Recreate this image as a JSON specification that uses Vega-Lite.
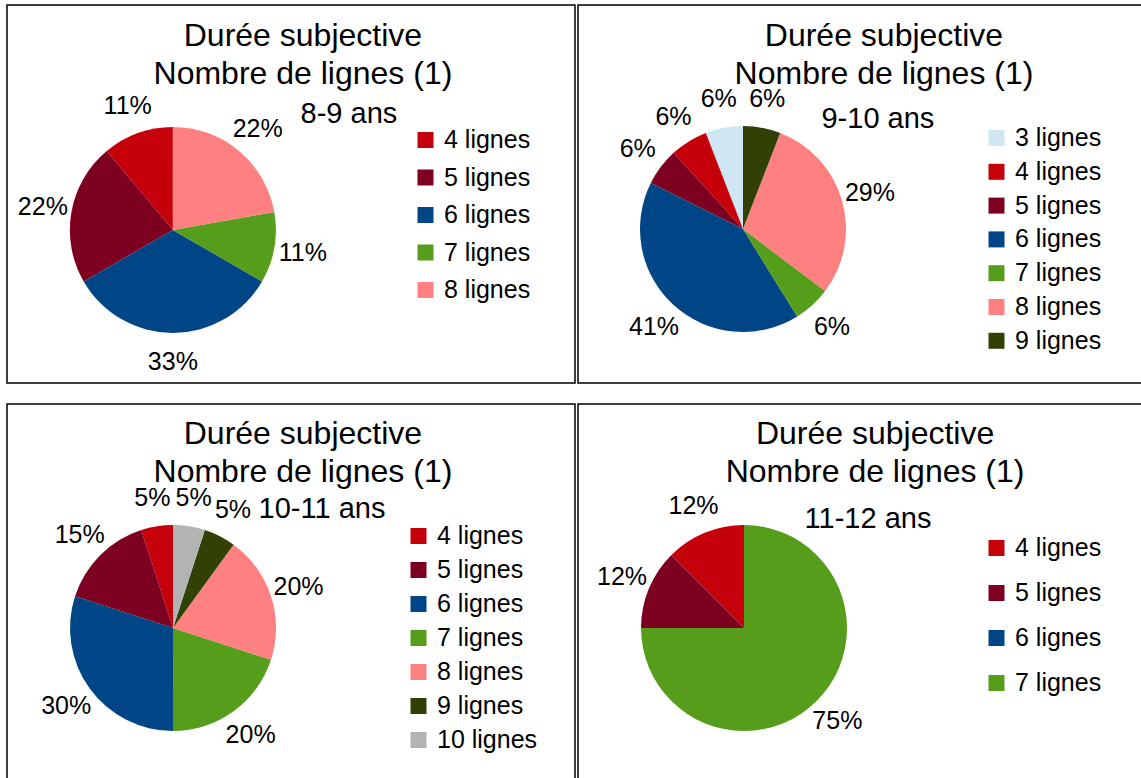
{
  "$schema": "https://vega.github.io/schema/vega-lite/v6.json",
  "padding": {"left": 6, "top": 4, "right": 0, "bottom": 0},
  "background": "white",
  "config": {
    "view": {"stroke": "black", "strokeWidth": 1.5},
    "font": "Liberation Sans",
    "text": {"font": "Liberation Sans", "color": "black"},
    "legend": {"symbolType": "square", "symbolSize": 256, "labelFontSize": 25, "labelFont": "Liberation Sans", "labelColor": "black", "labelOffset": 6, "symbolStrokeWidth": 0, "padding": 0, "labelLimit": 0, "symbolOpacity": 1}
  },
  "datasets": {
    "p89": [
      {"categorie": "4 lignes", "nb": 4, "part": 11.11, "etiquette": "11%"},
      {"categorie": "5 lignes", "nb": 5, "part": 22.22, "etiquette": "22%"},
      {"categorie": "6 lignes", "nb": 6, "part": 33.33, "etiquette": "33%"},
      {"categorie": "7 lignes", "nb": 7, "part": 11.11, "etiquette": "11%"},
      {"categorie": "8 lignes", "nb": 8, "part": 22.22, "etiquette": "22%"}
    ],
    "p910": [
      {"categorie": "3 lignes", "nb": 3, "part": 5.88, "etiquette": "6%"},
      {"categorie": "4 lignes", "nb": 4, "part": 5.88, "etiquette": "6%"},
      {"categorie": "5 lignes", "nb": 5, "part": 5.88, "etiquette": "6%"},
      {"categorie": "6 lignes", "nb": 6, "part": 41.18, "etiquette": "41%"},
      {"categorie": "7 lignes", "nb": 7, "part": 5.88, "etiquette": "6%"},
      {"categorie": "8 lignes", "nb": 8, "part": 29.41, "etiquette": "29%"},
      {"categorie": "9 lignes", "nb": 9, "part": 5.88, "etiquette": "6%"}
    ],
    "p1011": [
      {"categorie": "4 lignes", "nb": 4, "part": 5, "etiquette": "5%"},
      {"categorie": "5 lignes", "nb": 5, "part": 15, "etiquette": "15%"},
      {"categorie": "6 lignes", "nb": 6, "part": 30, "etiquette": "30%"},
      {"categorie": "7 lignes", "nb": 7, "part": 20, "etiquette": "20%"},
      {"categorie": "8 lignes", "nb": 8, "part": 20, "etiquette": "20%"},
      {"categorie": "9 lignes", "nb": 9, "part": 5, "etiquette": "5%"},
      {"categorie": "10 lignes", "nb": 10, "part": 5, "etiquette": "5%"}
    ],
    "p1112": [
      {"categorie": "4 lignes", "nb": 4, "part": 12.5, "etiquette": "12%"},
      {"categorie": "5 lignes", "nb": 5, "part": 12.5, "etiquette": "12%"},
      {"categorie": "6 lignes", "nb": 6, "part": 0, "etiquette": ""},
      {"categorie": "7 lignes", "nb": 7, "part": 75, "etiquette": "75%"}
    ]
  },
  "columns": 2,
  "spacing": {"row": 21, "column": 3},
  "bounds": "flush",
  "resolve": {
    "scale": {"color": "independent", "theta": "independent", "x": "independent", "y": "independent"},
    "legend": {"color": "independent"}
  },
  "concat": [
    {
      "width": 568, "height": 378,
      "layer": [
        {
          "data": {"name": "p89"},
          "mark": {"type": "arc", "outerRadius": 103},
          "encoding": {
            "theta": {"field": "part", "type": "quantitative", "stack": true},
            "order": {"field": "nb", "sort": "descending"},
            "color": {"field": "categorie", "type": "nominal",
              "scale": {"domain": ["4 lignes", "5 lignes", "6 lignes", "7 lignes", "8 lignes"], "range": ["#c5000b", "#7e0021", "#004586", "#579d1c", "#ff8080"]},
              "legend": {"title": null, "orient": "none", "legendX": 406, "legendY": 122.5, "rowPadding": 11.5}},
            "x": {"datum": 0.292, "type": "quantitative", "scale": {"domain": [0, 1], "nice": false, "zero": false}, "axis": null},
            "y": {"datum": 0.405, "type": "quantitative", "scale": {"domain": [0, 1], "nice": false, "zero": false}, "axis": null}
          }
        },
        {
          "data": {"name": "p89"},
          "transform": [{"filter": "datum.part > 0"}],
          "mark": {"type": "text", "radius": 132, "fontSize": 25, "align": "center", "baseline": "middle"},
          "encoding": {
            "theta": {"field": "part", "type": "quantitative", "stack": true},
            "order": {"field": "nb", "sort": "descending"},
            "text": {"field": "etiquette"},
            "x": {"datum": 0.292, "type": "quantitative"},
            "y": {"datum": 0.405, "type": "quantitative"}
          }
        },
        {
          "data": {"values": [{}]},
          "mark": {"type": "text", "fontSize": 32, "lineHeight": 38, "align": "center", "baseline": "alphabetic"},
          "encoding": {
            "text": {"value": ["Durée subjective", "Nombre de lignes (1)"]},
            "x": {"datum": 0.521, "type": "quantitative"},
            "y": {"datum": 0.8915, "type": "quantitative"}
          }
        },
        {
          "data": {"values": [{}]},
          "mark": {"type": "text", "fontSize": 29, "align": "center", "baseline": "alphabetic"},
          "encoding": {
            "text": {"value": "8-9 ans"},
            "x": {"datum": 0.602, "type": "quantitative"},
            "y": {"datum": 0.6886, "type": "quantitative"}
          }
        }
      ]
    },
    {
      "width": 568, "height": 378,
      "layer": [
        {
          "data": {"name": "p910"},
          "mark": {"type": "arc", "outerRadius": 103},
          "encoding": {
            "theta": {"field": "part", "type": "quantitative", "stack": true},
            "order": {"field": "nb", "sort": "descending"},
            "color": {"field": "categorie", "type": "nominal",
              "scale": {"domain": ["3 lignes", "4 lignes", "5 lignes", "6 lignes", "7 lignes", "8 lignes", "9 lignes"], "range": ["#cfe7f5", "#c5000b", "#7e0021", "#004586", "#579d1c", "#ff8080", "#314004"]},
              "legend": {"title": null, "orient": "none", "legendX": 406, "legendY": 120.5, "rowPadding": 7.8}},
            "x": {"datum": 0.2905, "type": "quantitative", "scale": {"domain": [0, 1], "nice": false, "zero": false}, "axis": null},
            "y": {"datum": 0.4074, "type": "quantitative", "scale": {"domain": [0, 1], "nice": false, "zero": false}, "axis": null}
          }
        },
        {
          "data": {"name": "p910"},
          "transform": [{"filter": "datum.part > 0"}],
          "mark": {"type": "text", "radius": 132, "fontSize": 25, "align": "center", "baseline": "middle"},
          "encoding": {
            "theta": {"field": "part", "type": "quantitative", "stack": true},
            "order": {"field": "nb", "sort": "descending"},
            "text": {"field": "etiquette"},
            "x": {"datum": 0.2905, "type": "quantitative"},
            "y": {"datum": 0.4074, "type": "quantitative"}
          }
        },
        {
          "data": {"values": [{}]},
          "mark": {"type": "text", "fontSize": 32, "lineHeight": 38, "align": "center", "baseline": "alphabetic"},
          "encoding": {
            "text": {"value": ["Durée subjective", "Nombre de lignes (1)"]},
            "x": {"datum": 0.5387, "type": "quantitative"},
            "y": {"datum": 0.8915, "type": "quantitative"}
          }
        },
        {
          "data": {"values": [{}]},
          "mark": {"type": "text", "fontSize": 29, "align": "center", "baseline": "alphabetic"},
          "encoding": {
            "text": {"value": "9-10 ans"},
            "x": {"datum": 0.528, "type": "quantitative"},
            "y": {"datum": 0.6746, "type": "quantitative"}
          }
        }
      ]
    },
    {
      "width": 568, "height": 378,
      "layer": [
        {
          "data": {"name": "p1011"},
          "mark": {"type": "arc", "outerRadius": 103},
          "encoding": {
            "theta": {"field": "part", "type": "quantitative", "stack": true},
            "order": {"field": "nb", "sort": "descending"},
            "color": {"field": "categorie", "type": "nominal",
              "scale": {"domain": ["4 lignes", "5 lignes", "6 lignes", "7 lignes", "8 lignes", "9 lignes", "10 lignes"], "range": ["#c5000b", "#7e0021", "#004586", "#579d1c", "#ff8080", "#314004", "#b3b3b3"]},
              "legend": {"title": null, "orient": "none", "legendX": 399, "legendY": 119.5, "rowPadding": 8}},
            "x": {"datum": 0.2923, "type": "quantitative", "scale": {"domain": [0, 1], "nice": false, "zero": false}, "axis": null},
            "y": {"datum": 0.4074, "type": "quantitative", "scale": {"domain": [0, 1], "nice": false, "zero": false}, "axis": null}
          }
        },
        {
          "data": {"name": "p1011"},
          "transform": [{"filter": "datum.part > 0"}],
          "mark": {"type": "text", "radius": 132, "fontSize": 25, "align": "center", "baseline": "middle"},
          "encoding": {
            "theta": {"field": "part", "type": "quantitative", "stack": true},
            "order": {"field": "nb", "sort": "descending"},
            "text": {"field": "etiquette"},
            "x": {"datum": 0.2923, "type": "quantitative"},
            "y": {"datum": 0.4074, "type": "quantitative"}
          }
        },
        {
          "data": {"values": [{}]},
          "mark": {"type": "text", "fontSize": 32, "lineHeight": 38, "align": "center", "baseline": "alphabetic"},
          "encoding": {
            "text": {"value": ["Durée subjective", "Nombre de lignes (1)"]},
            "x": {"datum": 0.521, "type": "quantitative"},
            "y": {"datum": 0.894, "type": "quantitative"}
          }
        },
        {
          "data": {"values": [{}]},
          "mark": {"type": "text", "fontSize": 29, "align": "center", "baseline": "alphabetic"},
          "encoding": {
            "text": {"value": "10-11 ans"},
            "x": {"datum": 0.5546, "type": "quantitative"},
            "y": {"datum": 0.6984, "type": "quantitative"}
          }
        }
      ]
    },
    {
      "width": 568, "height": 378,
      "layer": [
        {
          "data": {"name": "p1112"},
          "mark": {"type": "arc", "outerRadius": 103},
          "encoding": {
            "theta": {"field": "part", "type": "quantitative", "stack": true},
            "order": {"field": "nb", "sort": "descending"},
            "color": {"field": "categorie", "type": "nominal",
              "scale": {"domain": ["4 lignes", "5 lignes", "6 lignes", "7 lignes"], "range": ["#c5000b", "#7e0021", "#004586", "#579d1c"]},
              "legend": {"title": null, "orient": "none", "legendX": 406, "legendY": 131.5, "rowPadding": 19}},
            "x": {"datum": 0.2923, "type": "quantitative", "scale": {"domain": [0, 1], "nice": false, "zero": false}, "axis": null},
            "y": {"datum": 0.4074, "type": "quantitative", "scale": {"domain": [0, 1], "nice": false, "zero": false}, "axis": null}
          }
        },
        {
          "data": {"name": "p1112"},
          "transform": [{"filter": "datum.part > 0"}],
          "mark": {"type": "text", "radius": 132, "fontSize": 25, "align": "center", "baseline": "middle"},
          "encoding": {
            "theta": {"field": "part", "type": "quantitative", "stack": true},
            "order": {"field": "nb", "sort": "descending"},
            "text": {"field": "etiquette"},
            "x": {"datum": 0.2923, "type": "quantitative"},
            "y": {"datum": 0.4074, "type": "quantitative"}
          }
        },
        {
          "data": {"values": [{}]},
          "mark": {"type": "text", "fontSize": 32, "lineHeight": 38, "align": "center", "baseline": "alphabetic"},
          "encoding": {
            "text": {"value": ["Durée subjective", "Nombre de lignes (1)"]},
            "x": {"datum": 0.523, "type": "quantitative"},
            "y": {"datum": 0.894, "type": "quantitative"}
          }
        },
        {
          "data": {"values": [{}]},
          "mark": {"type": "text", "fontSize": 29, "align": "center", "baseline": "alphabetic"},
          "encoding": {
            "text": {"value": "11-12 ans"},
            "x": {"datum": 0.5106, "type": "quantitative"},
            "y": {"datum": 0.672, "type": "quantitative"}
          }
        }
      ]
    }
  ]
}
